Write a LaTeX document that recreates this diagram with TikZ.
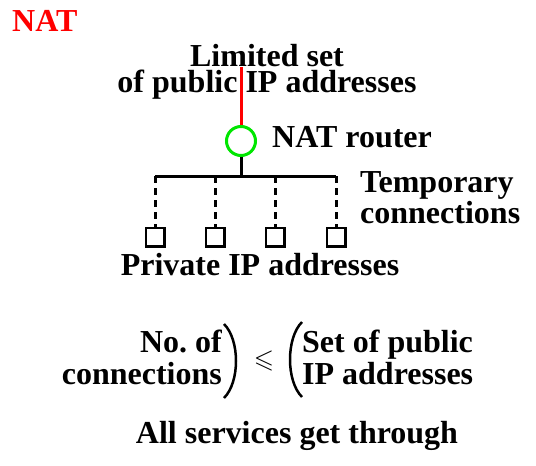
\documentclass[tikz,border=0pt]{standalone}
\usepackage{amssymb}
\usepackage{fontspec}
\setmainfont{Liberation Serif}
\usepackage{tikz}
\definecolor{natred}{RGB}{255,0,0}
\definecolor{routergreen}{RGB}{0,230,0}

\begin{document}
\begin{tikzpicture}[x=1pt,y=-1pt,
	every node/.style={inner sep=0pt,font=\bfseries\fontsize{32}{26}\selectfont},
	host/.style={draw,line width=2.5pt,minimum size=18.5pt},
	tmplink/.style={line width=3pt,dash pattern=on 7pt off 5pt},
	paren/.style={line width=2.5pt},
	widerows/.style={font=\bfseries\fontsize{32}{32}\selectfont}]
				\useasboundingbox (0,0) rectangle (536,466);
				\node[natred,anchor=base west] (title) at (12,31) {NAT};
				% public side
				\node[anchor=base,align=center] (public) at (267,92) {Limited set\\of public IP addresses};
				\coordinate (uplink) at (241,67);
				\node[circle,draw=routergreen,line width=3pt,minimum size=29pt] (router) at (241,141) {};
				\node[anchor=base west] (routerlabel) at (272,147) {NAT router};
				\draw[natred,line width=3pt] (uplink) -- (router);
				% private side
				\coordinate (bus) at (241,176);
				\draw[line width=3pt] (router) -- (bus);
				\foreach \h [count=\i] in {155,215,275,336} {
					\coordinate (tap\i) at (\h,176);
					\node[host] (host\i) at (\h,237) {};
					\draw[tmplink] (tap\i) -- (host\i.north);
				}
				\draw[line width=3pt] (tap1) -- (tap4);
				\node[anchor=base west,align=left] (templabel) at (360,223) {Temporary\\connections};
				\node[anchor=base] (privlabel) at (260,275) {Private IP addresses};
				% comparison
				\node[widerows,anchor=base east,align=right] (nconn) at (222,384) {No.\ of\\connections};
				\draw[paren] (224,324) .. controls (240,340) and (240,382) .. (224,398);
				\node (leq) at (264,361) {\fontsize{26}{26}\selectfont$\leqslant$};
				\draw[paren] (302,322) .. controls (286,338) and (286,381) .. (302,397);
				\node[widerows,anchor=base west,align=left] (npub) at (302,384) {Set of public\\IP addresses};
				\node[anchor=base] (services) at (297,443) {All services get through};
\end{tikzpicture}
\end{document}
